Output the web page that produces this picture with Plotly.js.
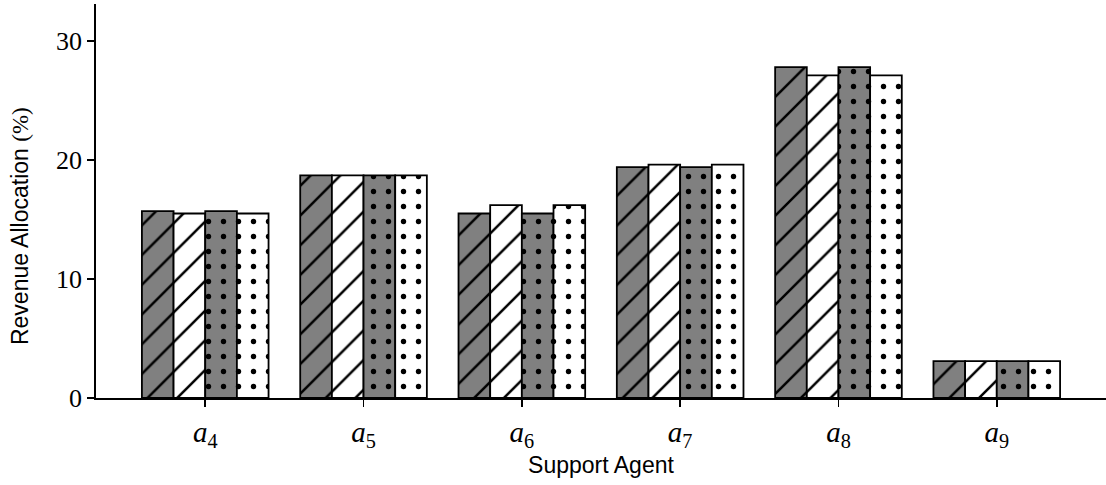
<!DOCTYPE html>
<html>
<head>
<meta charset="utf-8">
<script src="https://cdn.plot.ly/plotly-3.0.1.min.js"></script>
<style>html,body{margin:0;padding:0;background:#fff;}#chart{width:1106px;height:485px;}</style>
</head>
<body>
<div id="chart"></div>
<script>
const categories = ["a4", "a5", "a6", "a7", "a8", "a9"];
const tickLabels = ["<i>a</i><sub>4</sub>", "<i>a</i><sub>5</sub>", "<i>a</i><sub>6</sub>", "<i>a</i><sub>7</sub>", "<i>a</i><sub>8</sub>", "<i>a</i><sub>9</sub>"];
const series1 = [15.7, 18.7, 15.5, 19.4, 27.8, 3.1];
const series2 = [15.5, 18.7, 16.2, 19.6, 27.1, 3.1];
const series3 = [15.7, 18.7, 15.5, 19.4, 27.8, 3.1];
const series4 = [15.5, 18.7, 16.2, 19.6, 27.1, 3.1];
const xTitle = "Support Agent";
const yTitle = "Revenue Allocation <span style=\"font-family:'Liberation Serif'\">(%)</span>";

const styles = [
  {bg: "#808080", shape: "/"},
  {bg: "#ffffff", shape: "/"},
  {bg: "#808080", shape: "."},
  {bg: "#ffffff", shape: "."}
];
const allSeries = [series1, series2, series3, series4];

const traces = allSeries.map((vals, i) => ({
  type: "bar",
  x: categories,
  y: vals,
  showlegend: false,
  hoverinfo: "skip",
  marker: {
    color: styles[i].bg,
    line: {color: "#000", width: 1.8},
    pattern: styles[i].shape === "/" ?
      {shape: "/", size: 21, solidity: 0.12, fgcolor: "#000", fgopacity: 1, bgcolor: styles[i].bg, fillmode: "overlay"} :
      {shape: ".", size: 15, solidity: 0.1, fgcolor: "#000", fgopacity: 1, bgcolor: styles[i].bg, fillmode: "overlay"}
  }
}));

const layout = {
  width: 1106, height: 485,
  margin: {l: 96, r: 0, t: 4, b: 87},
  paper_bgcolor: "#fff", plot_bgcolor: "#fff",
  barmode: "group", bargap: 0.2, bargroupgap: 0,
  showlegend: false,
  xaxis: {
    type: "category",
    range: [-0.69, 5.69],
    tickmode: "array", tickvals: categories, ticktext: tickLabels,
    showgrid: false, zeroline: false,
    showline: true, linecolor: "#000", linewidth: 1.8,
    ticks: "outside", ticklen: 7, tickwidth: 1.8, tickcolor: "#000",
    tickfont: {family: "Liberation Serif", size: 29, color: "#000"},
    title: {text: xTitle, font: {family: "Liberation Sans", size: 23, color: "#000"}, standoff: 4}
  },
  yaxis: {
    range: [0, 33.1],
    tickvals: [0, 10, 20, 30],
    showgrid: false, zeroline: false,
    showline: true, linecolor: "#000", linewidth: 1.8,
    ticks: "outside", ticklen: 7, tickwidth: 1.8, tickcolor: "#000",
    tickfont: {family: "Liberation Serif", size: 26, color: "#000"}
  },
  annotations: [{
    text: yTitle, xref: "paper", yref: "paper",
    x: -0.0752, y: 0.4365, xanchor: "center", yanchor: "middle",
    textangle: -90, showarrow: false,
    font: {family: "Liberation Sans", size: 23, color: "#000"}
  }]
};

Plotly.newPlot("chart", traces, layout, {displayModeBar: false, staticPlot: true});
</script>
</body>
</html>
